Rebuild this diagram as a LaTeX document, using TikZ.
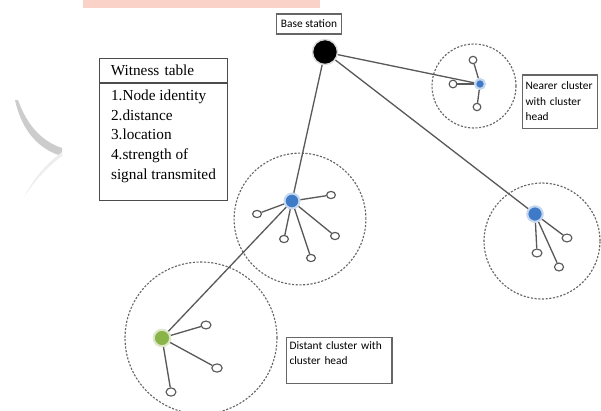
\documentclass[tikz,border=0pt]{standalone}
\usepackage{fontspec}
\setmainfont{Liberation Serif}
\newfontfamily\calibfont{Carlito}
\usetikzlibrary{shapes.geometric}

\definecolor{headblue}{RGB}{62,122,200}
\definecolor{headgreen}{RGB}{138,180,72}
\definecolor{bannerpink}{RGB}{250,210,200}

\begin{document}
\begin{tikzpicture}[
    x=0.02cm, y=-0.02cm,
    link/.style={draw=black!65, line width=0.75pt},
    member/.style={ellipse, draw=black!65, fill=white, line width=0.65pt, inner sep=0pt, minimum width=5pt, minimum height=4.1pt},
    head/.style={circle, fill=#1, draw=#1!30, line width=1.2pt, inner sep=0pt},
    cluster/.style={circle, draw=black!60, dash pattern=on 1.2pt off 0.9pt, line width=0.65pt, inner sep=0pt, minimum size=#1},
    labelbox/.style={draw=black!60, line width=0.6pt, font=\calibfont\fontsize{6.5}{8.8}\selectfont, align=left, inner sep=2pt},
    tablebox/.style={draw=black!70, line width=0.6pt, font=\fontsize{8.7}{11.3}\selectfont, minimum width=72.8pt},
  ]
  \useasboundingbox (0,0) rectangle (601,410);

  % faint page decoration
  \fill[bannerpink] (83,0) rectangle (320,7.5);
  \fill[black!20] (18,100) .. controls (28,128) and (44,142) .. (62,148) -- (62,156) .. controls (40,150) and (22,132) .. (15,100) -- cycle;
  \fill[black!7] (62,156) .. controls (46,168) and (33,183) .. (24,197) .. controls (34,178) and (46,164) .. (62,152) -- cycle;

  % base station
  \node [labelbox, minimum width=37.5pt, minimum height=11.4pt, inner sep=1pt, align=center] (BSL) at (309,24) {Base station};
  \node [circle, fill=black, draw=black!15, line width=0.8pt, inner sep=0pt, minimum size=14.2pt] (BS) at (325,52) {};

  % witness table
  \node [tablebox, anchor=north west, text width=60pt, inner xsep=6.4pt, minimum height=13.7pt, align=left] (WT) at (99,58) {Witness table};
  \node [tablebox, anchor=north, align=left, inner ysep=3.4pt] (WB) at (WT.south) {1.Node identity\\2.distance\\3.location\\4.strength of\\signal transmited\\[-2.7pt]\mbox{}};

  % nearer cluster
  \node [cluster=47.8pt] (C1) at (474,86) {};
  \node [head=headblue, minimum size=5.6pt] (H1) at (480,84) {};
  \node [member, minimum width=4.4pt, minimum height=4.2pt] (N1) at (473,60) {};
  \node [member, minimum width=4.4pt, minimum height=4.4pt] (N2) at (453,84) {};
  \node [member, minimum width=4.4pt, minimum height=4.2pt] (N3) at (477,107) {};
  \node [labelbox, minimum height=30.2pt, text width=39.2pt] (NL) at (560,101.5) {Nearer cluster\\with cluster\\head};

  % middle cluster
  \node [cluster=75pt] (C2) at (300,219) {};
  \node [head=headblue, minimum size=8.5pt] (H2) at (292,201) {};
  \node [member] (M1) at (331,195) {};
  \node [member] (M2) at (257,214) {};
  \node [member] (M3) at (284,239) {};
  \node [member] (M4) at (335,236) {};
  \node [member] (M5) at (311,258) {};

  % right cluster
  \node [cluster=66pt] (C3) at (542,241) {};
  \node [head=headblue, minimum size=8.8pt] (H3) at (535,214) {};
  \node [member, minimum width=5.6pt, minimum height=4.5pt] (R1) at (567,238) {};
  \node [member, minimum width=5.6pt, minimum height=4.5pt] (R2) at (537,253) {};
  \node [member, minimum width=5.2pt, minimum height=4.5pt] (R3) at (559,267) {};

  % distant cluster
  \node [cluster=86.5pt] (C4) at (201,338) {};
  \node [head=headgreen, minimum size=9.4pt] (G) at (162,338) {};
  \node [member, minimum width=5.6pt, minimum height=4.5pt] (D1) at (206,325) {};
  \node [member, minimum width=5.9pt, minimum height=4.7pt] (D2) at (217,368) {};
  \node [member, minimum width=5.6pt, minimum height=4.7pt] (D3) at (171,392) {};
  \node [labelbox, minimum height=25.6pt, text width=56.3pt] (DL) at (339,360.5) {Distant cluster with\\cluster head\\ \mbox{}};

  \draw [link] (BS) -- (H1);
  \draw [link] (BS) -- (H2);
  \draw [link] (BS) -- (H3);
  \draw [link] (H2) -- (G);

  \draw [link] (H1) -- (N1);
  \draw [link] (H1) -- (N2);
  \draw [link] (H1) -- (N3);

  \draw [link] (H2) -- (M1);
  \draw [link] (H2) -- (M2);
  \draw [link] (H2) -- (M3);
  \draw [link] (H2) -- (M4);
  \draw [link] (H2) -- (M5);

  \draw [link] (H3) -- (R1);
  \draw [link] (H3) -- (R2);
  \draw [link] (H3) -- (R3);

  \draw [link] (G) -- (D1);
  \draw [link] (G) -- (D2);
  \draw [link] (G) -- (D3);

\end{tikzpicture}
\end{document}
